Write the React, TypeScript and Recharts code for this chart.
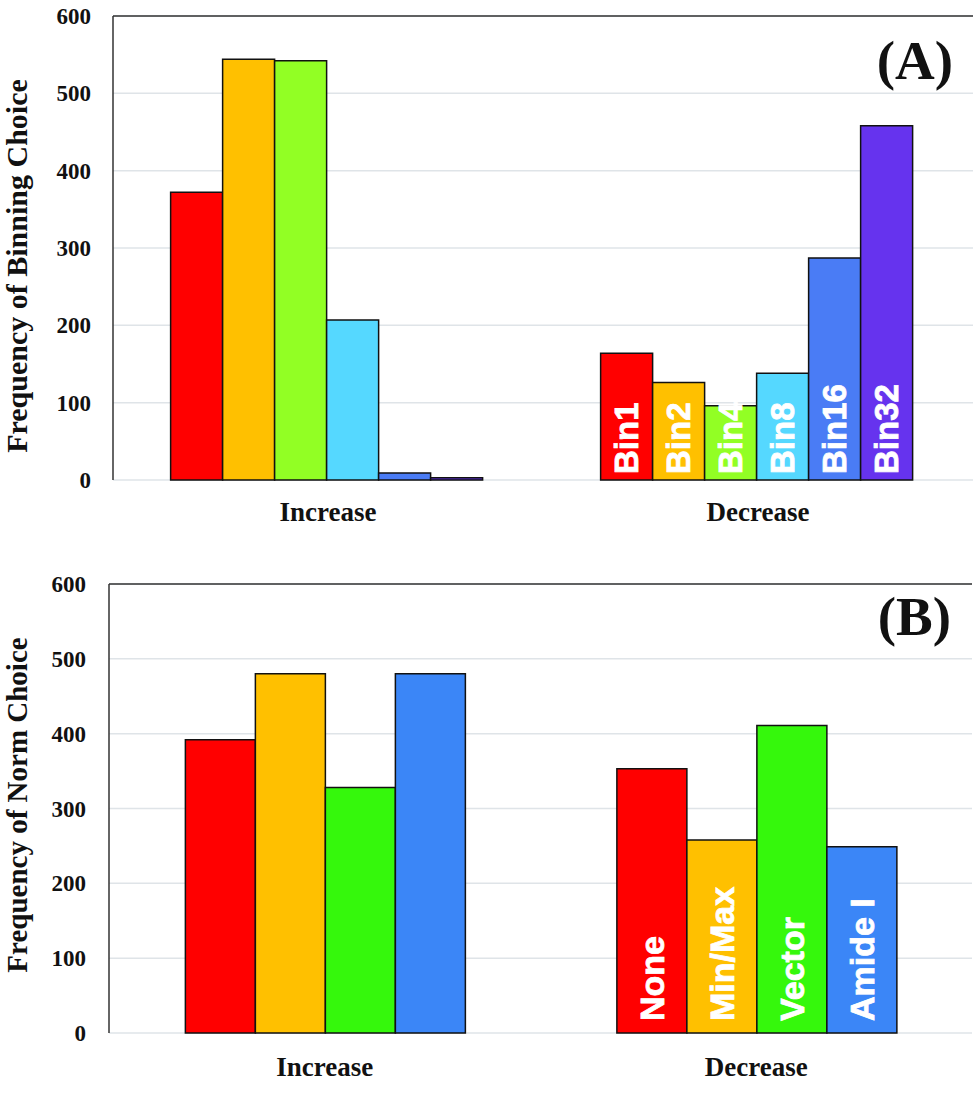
import React from 'react'
import {
  Bar,
  BarChart,
  CartesianGrid,
  LabelList,
  ReferenceLine,
  XAxis,
  YAxis,
} from 'recharts'

// Two stacked panels: (A) binning choice, (B) normalisation choice

const categories = ['Increase', 'Decrease']
const yTicks = [0, 100, 200, 300, 400, 500, 600]

const binNames = ['Bin1', 'Bin2', 'Bin4', 'Bin8', 'Bin16', 'Bin32']
const binColors = ['#ff0000', '#ffc000', '#92ff24', '#55d8ff', '#4a7cf5', '#6633ee']
const bin1 = [372, 164]
const bin2 = [544, 126]
const bin4 = [542, 96]
const bin8 = [207, 138]
const bin16 = [9, 287]
const bin32 = [3, 458]

const normNames = ['None', 'Min/Max', 'Vector', 'Amide I']
const normColors = ['#ff0000', '#ffc000', '#35f80c', '#3b86f7']
const normNone = [392, 353]
const normMinMax = [480, 258]
const normVector = [328, 411]
const normAmide = [480, 249]

const binRows = categories.map((c, i) => ({
  category: c,
  Bin1: bin1[i],
  Bin2: bin2[i],
  Bin4: bin4[i],
  Bin8: bin8[i],
  Bin16: bin16[i],
  Bin32: bin32[i],
}))

const normRows = categories.map((c, i) => ({
  category: c,
  None: normNone[i],
  'Min/Max': normMinMax[i],
  Vector: normVector[i],
  'Amide I': normAmide[i],
}))

const serif = '"Liberation Serif", "Times New Roman", serif'
const sans = '"Liberation Sans", Arial, sans-serif'

// white rotated series name inside the "Decrease" bars only
function barName(name: string, fontSize: number, pad: number) {
  return (props: any) => {
    const { x, y, width, height, index } = props
    if (index !== 1) return null
    const cx = Number(x) + Number(width) / 2
    const by = Number(y) + Number(height) - pad
    return (
      <text
        x={cx}
        y={by}
        transform={`rotate(-90, ${cx}, ${by})`}
        textAnchor="start"
        dominantBaseline="central"
        fill="#fff"
        stroke="#fff"
        strokeWidth={0.8}
        fontFamily={sans}
        fontWeight="bold"
        fontSize={fontSize}
      >
        {name}
      </text>
    )
  }
}

function yTitle(text: string, cy: number, fontSize: number) {
  return () => (
    <text
      x={27}
      y={cy}
      transform={`rotate(-90, 27, ${cy})`}
      textAnchor="middle"
      fill="#111"
      fontFamily={serif}
      fontWeight="bold"
      fontSize={fontSize}
    >
      {text}
    </text>
  )
}

interface PanelProps {
  rows: any[]
  names: string[]
  colors: string[]
  height: number
  top: number
  right: number
  axisWidth: number
  xHeight: number
  xMargin: number
  yMargin: number
  gap: string
  title: string
  titleY: number
  titleSize: number
  labelSize: number
  labelPad: number
}

function Panel(p: PanelProps) {
  const tickStyle = { fontSize: 23, fontFamily: serif, fontWeight: 'bold', fill: '#111' }
  return (
    <BarChart
      width={979}
      height={p.height}
      data={p.rows}
      margin={{ top: p.top, right: p.right, left: 0, bottom: 0 }}
      barCategoryGap={p.gap}
      barGap={0}
    >
      <CartesianGrid vertical={false} stroke="#dfe4e8" strokeWidth={1.5} />
      <XAxis
        dataKey="category"
        height={p.xHeight}
        axisLine={false}
        tickLine={false}
        tickMargin={p.xMargin}
        tick={{ fontSize: 27, fontFamily: serif, fontWeight: 'bold', fill: '#111' }}
      />
      <YAxis
        domain={[0, 600]}
        ticks={yTicks}
        width={p.axisWidth}
        tickLine={false}
        tickMargin={p.yMargin}
        axisLine={{ stroke: '#333', strokeWidth: 1.5 }}
        tick={tickStyle}
        label={{ content: yTitle(p.title, p.titleY, p.titleSize) }}
      />
      <YAxis
        yAxisId="right"
        orientation="right"
        domain={[0, 600]}
        width={0}
        tick={false}
        tickLine={false}
        axisLine={{ stroke: '#666', strokeWidth: 1.5 }}
      />
      <ReferenceLine y={600} stroke="#333" strokeWidth={1.5} />
      {p.names.map((n, i) => (
        <Bar
          key={n}
          dataKey={n}
          fill={p.colors[i]}
          stroke="#111"
          strokeWidth={1.5}
          isAnimationActive={false}
        >
          <LabelList dataKey={n} content={barName(n, p.labelSize, p.labelPad)} />
        </Bar>
      ))}
    </BarChart>
  )
}

const tagStyle: React.CSSProperties = {
  position: 'absolute',
  fontFamily: serif,
  fontWeight: 'bold',
  fontSize: 55,
  lineHeight: 1,
  color: '#111',
}

export default function App() {
  return (
    <div
      style={{
        position: 'absolute',
        left: 0,
        top: 0,
        width: 979,
        height: 1116,
        background: '#fff',
      }}
    >
      <Panel
        rows={binRows}
        names={binNames}
        colors={binColors}
        height={540}
        top={16}
        right={6}
        axisWidth={113}
        xHeight={60}
        xMargin={16}
        yMargin={16}
        gap="13.4%"
        title="Frequency of Binning Choice"
        titleY={266}
        titleSize={30}
        labelSize={33}
        labelPad={6}
      />
      <div style={{ position: 'absolute', left: 0, top: 540 }}>
        <Panel
          rows={normRows}
          names={normNames}
          colors={normColors}
          height={576}
          top={44}
          right={7}
          axisWidth={109}
          xHeight={83}
          xMargin={18}
          yMargin={17}
          gap="17.7%"
          title="Frequency of Norm Choice"
          titleY={265}
          titleSize={29}
          labelSize={34}
          labelPad={12}
        />
      </div>
      <div style={{ ...tagStyle, right: 26, top: 33 }}>(A)</div>
      <div style={{ ...tagStyle, right: 28, top: 589 }}>(B)</div>
    </div>
  )
}
